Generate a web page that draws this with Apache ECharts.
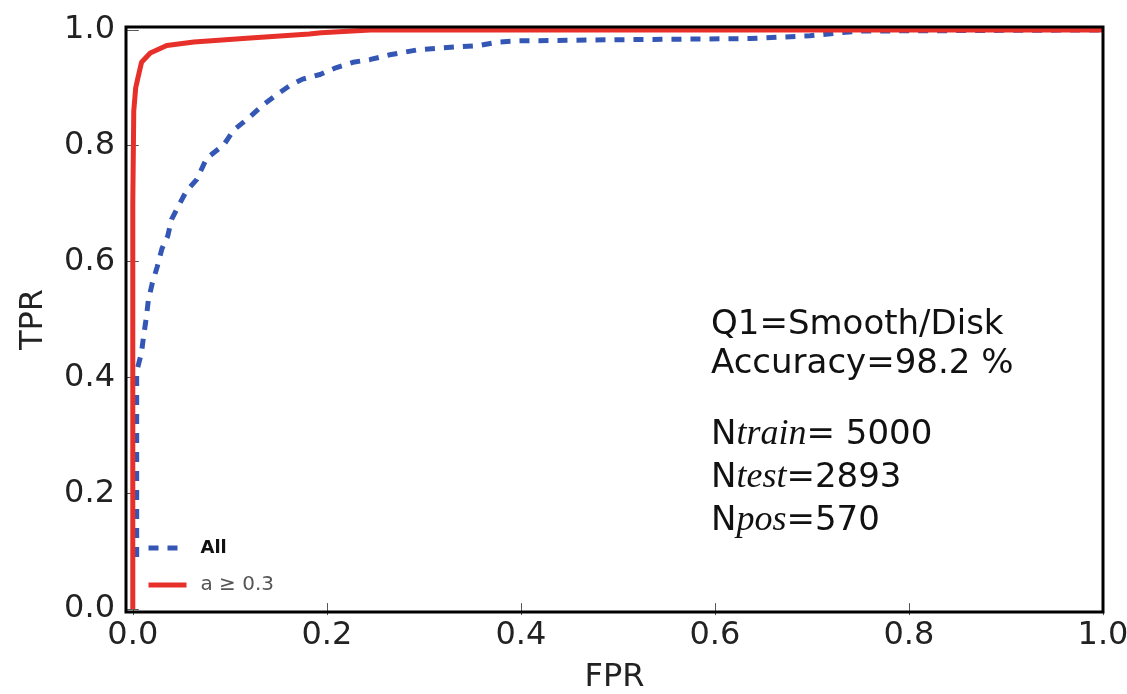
<!DOCTYPE html>
<html>
<head>
<meta charset="utf-8">
<script src="https://cdn.jsdelivr.net/npm/echarts@6/dist/echarts.min.js"></script>
<style>
html,body{margin:0;padding:0;background:#fff;}
#chart{width:1127px;height:694px;}
</style>
</head>
<body>
<div id="chart"></div>
<script>
// ROC curve "All" (blue, dashed)
const allFPR = [0.004, 0.004, 0.009, 0.011, 0.014, 0.016, 0.020, 0.025, 0.030, 0.036, 0.040, 0.048, 0.055, 0.066, 0.076, 0.094, 0.104, 0.118, 0.134, 0.149, 0.162, 0.175, 0.193, 0.210, 0.227, 0.245, 0.265, 0.295, 0.337, 0.357, 0.376, 0.396, 0.496, 0.637, 0.698, 0.748, 1.000];
const allTPR = [0.090, 0.410, 0.443, 0.470, 0.504, 0.533, 0.562, 0.590, 0.622, 0.644, 0.673, 0.699, 0.721, 0.742, 0.778, 0.802, 0.827, 0.846, 0.870, 0.889, 0.904, 0.915, 0.923, 0.935, 0.944, 0.949, 0.957, 0.966, 0.971, 0.973, 0.979, 0.981, 0.983, 0.985, 0.990, 0.998, 1.000];
// ROC curve "a ≥ 0.3" (red, solid)
const subFPR = [0.000, 0.000, 0.001, 0.003, 0.005, 0.009, 0.018, 0.035, 0.063, 0.121, 0.182, 0.194, 0.245, 1.000];
const subTPR = [0.000, 0.700, 0.860, 0.900, 0.915, 0.944, 0.960, 0.973, 0.979, 0.986, 0.993, 0.995, 1.000, 1.000];
const seriesNames = ['All', 'a \u2265 0.3'];
const xTicks = [0, 0.2, 0.4, 0.6, 0.8, 1.0];
const yTicks = [0, 0.2, 0.4, 0.6, 0.8, 1.0];
const xRange = [-0.007, 1.0];
const yRange = [-0.005, 1.005];
const xTitle = 'FPR';
const yTitle = 'TPR';
const noteLines = [
  ['Q1=Smooth/Disk'],
  ['Accuracy=98.2 %'],
  ['N', 'train', '= 5000'],
  ['N', 'test', '=2893'],
  ['N', 'pos', '=570']
];

const G = {left: 126, top: 27, width: 977, height: 585};
const FONT = 'DejaVu Sans';

const chart = echarts.init(document.getElementById('chart'), null, {renderer: 'canvas'});

function zip(a, b) { return a.map((v, i) => [v, b[i]]); }

const tickStyleX = {show: true, inside: true, length: 6, customValues: xTicks, lineStyle: {color: '#555', width: 1}};
const tickStyleY = {show: true, inside: true, length: 6, customValues: yTicks, lineStyle: {color: '#555', width: 1}};
const labelFmt = v => v.toFixed(1);

const noteY = [325, 364, 435, 478, 521];
const noteEls = noteLines.map((parts, i) => {
  let text;
  if (parts.length === 1) text = '{s|' + parts[0] + '}';
  else text = '{s|' + parts[0] + '}{i|' + parts[1] + '}{s|' + parts[2] + '}';
  return {
    type: 'text', x: 711, y: noteY[i], z: 50,
    style: {
      text: text, verticalAlign: 'middle', align: 'left',
      rich: {
        s: {fontFamily: FONT, fontSize: 34, fill: '#111', color: '#111'},
        i: {fontFamily: 'Liberation Serif', fontStyle: 'italic', fontSize: 36, fill: '#111', color: '#111'}
      }
    }
  };
});

const option = {
  backgroundColor: '#fff',
  animation: false,
  grid: {left: G.left, top: G.top, width: G.width, height: G.height, containLabel: false, outerBoundsMode: 'none'},
  xAxis: [{
    type: 'value', min: xRange[0], max: xRange[1], position: 'bottom',
    name: xTitle, nameLocation: 'middle', nameGap: 50,
    nameTextStyle: {fontFamily: FONT, fontSize: 32, color: '#222'},
    axisLine: {show: false},
    axisTick: tickStyleX,
    splitLine: {show: false},
    axisLabel: {customValues: xTicks, formatter: labelFmt, fontFamily: FONT, fontSize: 32, color: '#222', margin: 8}
  }, {
    type: 'value', min: xRange[0], max: xRange[1], position: 'top',
    axisLine: {show: false}, axisTick: tickStyleX, splitLine: {show: false}, axisLabel: {show: false}
  }],
  yAxis: [{
    type: 'value', min: yRange[0], max: yRange[1], position: 'left',
    name: yTitle, nameLocation: 'middle', nameGap: 76, nameRotate: 90,
    nameTextStyle: {fontFamily: FONT, fontSize: 32, color: '#222'},
    axisLine: {show: false},
    axisTick: tickStyleY,
    splitLine: {show: false},
    axisLabel: {customValues: yTicks, formatter: labelFmt, fontFamily: FONT, fontSize: 32, color: '#222', margin: 11}
  }, {
    type: 'value', min: yRange[0], max: yRange[1], position: 'right',
    axisLine: {show: false}, axisTick: tickStyleY, splitLine: {show: false}, axisLabel: {show: false}
  }],
  legend: {
    show: true, orient: 'vertical', left: 140, top: 533,
    itemWidth: 38, itemHeight: 14, itemGap: 18,
    padding: [6, 6, 6, 6],
    itemStyle: {opacity: 0},
    lineStyle: {width: 5},
    textStyle: {fontFamily: FONT, fontSize: 19, color: '#333', padding: [0, 0, 0, 9]},
    data: [
      {name: seriesNames[0], textStyle: {color: '#111', fontWeight: 'bold', fontSize: 18}},
      {name: seriesNames[1], textStyle: {color: '#555', fontSize: 20}}
    ]
  },
  series: [{
    name: seriesNames[0], type: 'line', data: zip(allFPR, allTPR),
    showSymbol: false, symbol: 'none', clip: true, z: 3,
    lineStyle: {color: '#3457b5', width: 5, type: [10, 9], cap: 'butt'},
    itemStyle: {color: '#3457b5'}
  }, {
    name: seriesNames[1], type: 'line', data: zip(subFPR, subTPR),
    showSymbol: false, symbol: 'none', clip: true, z: 4,
    lineStyle: {color: '#e8302a', width: 5},
    itemStyle: {color: '#e8302a'}
  }],
  graphic: [{
    type: 'rect', z: 100, silent: true,
    shape: {x: G.left, y: G.top, width: G.width, height: G.height},
    style: {fill: 'none', stroke: '#000', lineWidth: 3}
  }].concat(noteEls)
};
chart.setOption(option);
</script>
</body>
</html>
